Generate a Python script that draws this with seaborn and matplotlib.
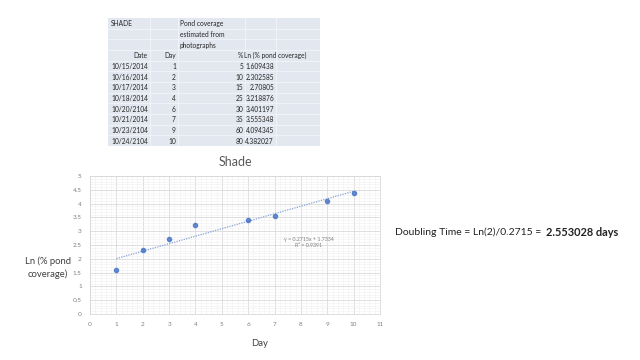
import numpy as np
import pandas as pd
import seaborn as sns
import matplotlib.pyplot as plt
from matplotlib.ticker import MultipleLocator, FuncFormatter

dates = ['10/15/2014', '10/16/2014', '10/17/2014', '10/18/2014',
         '10/20/2104', '10/21/2014', '10/23/2104', '10/24/2104']
days = [1, 2, 3, 4, 6, 7, 9, 10]
pct_cover = [5, 10, 15, 25, 30, 35, 60, 80]
ln_cover = ['1.609438', '2.302585', '2.70805', '3.218876',
            '3.401197', '3.555348', '4.094345', '4.382027']

df = pd.DataFrame({'Day': days, 'Ln': [float(v) for v in ln_cover]})

sns.set_style('white')
plt.rcParams['font.family'] = ['Lato', 'DejaVu Sans']

fig = plt.figure(figsize=(6.4, 3.6), dpi=100)

# ---- table at the top ----
tab = fig.add_axes([108/640, 1 - 146/360, 212/640, 128/360])
tab.set_xlim(108, 320)
tab.set_ylim(146, 18)
tab.axis('off')
col_edges = [108, 150, 178, 245, 276, 320]
n_rows = 12
row_h = 128 / n_rows
tab.add_patch(plt.Rectangle((108, 18), 212, 128, color='#e3e7f0', lw=0))
for x in col_edges[1:-1]:
    tab.plot([x, x], [18, 146], color='#f3f5f9', lw=0.6)
for i in range(1, n_rows):
    tab.plot([108, 320], [18 + i * row_h, 18 + i * row_h], color='#f3f5f9', lw=0.6)

fs = 4.8
def cell_y(r):
    return 18 + (r + 0.55) * row_h

tab.text(111, cell_y(0), 'SHADE', fontsize=fs, va='center', ha='left')
for r, t in enumerate(['Pond coverage', 'estimated from', 'photographs']):
    tab.text(180, cell_y(r), t, fontsize=fs, va='center', ha='left')
tab.text(148, cell_y(3), 'Date', fontsize=fs, va='center', ha='right')
tab.text(176, cell_y(3), 'Day', fontsize=fs, va='center', ha='right')
tab.text(243, cell_y(3), '%', fontsize=fs, va='center', ha='right')
tab.text(243.5, cell_y(3), 'Ln (% pond coverage)', fontsize=fs, va='center', ha='left')
for i in range(len(days)):
    r = 4 + i
    tab.text(148, cell_y(r), dates[i], fontsize=fs, va='center', ha='right')
    tab.text(176, cell_y(r), str(days[i]), fontsize=fs, va='center', ha='right')
    tab.text(243, cell_y(r), str(pct_cover[i]), fontsize=fs, va='center', ha='right')
    tab.text(274, cell_y(r), ln_cover[i], fontsize=fs, va='center', ha='right')

# ---- chart ----
ax = fig.add_axes([90/640, 1 - 314/360, 290/640, 138/360])
sns.regplot(data=df, x='Day', y='Ln', ci=None, ax=ax,
            scatter_kws=dict(s=9, color='#4472c4', zorder=3),
            line_kws=dict(color='#86a2d6', lw=0.9, ls=(0, (1, 1))))
ax.set_xlim(0, 11)
ax.set_ylim(0, 5)
ax.xaxis.set_major_locator(MultipleLocator(1))
ax.xaxis.set_minor_locator(MultipleLocator(0.2))
ax.yaxis.set_major_locator(MultipleLocator(0.5))
ax.yaxis.set_minor_locator(MultipleLocator(0.1))
ax.xaxis.set_major_formatter(FuncFormatter(lambda v, p: '%g' % v))
ax.yaxis.set_major_formatter(FuncFormatter(lambda v, p: '%g' % v))
ax.grid(which='major', color='#d9d9d9', lw=0.6)
ax.grid(which='minor', color='#efefef', lw=0.4)
for s in ax.spines.values():
    s.set_color('#d9d9d9')
    s.set_linewidth(0.6)
ax.tick_params(which='both', labelsize=4.6, colors='#7f7f7f', length=0, pad=6)
ax.set_xlabel('')
ax.set_ylabel('')
ax.set_title('Shade', fontsize=9, color='#595959', pad=7)

slope, intercept = np.polyfit(df['Day'], df['Ln'], 1)
r2 = np.corrcoef(df['Day'], df['Ln'])[0, 1] ** 2
ax.text(8.3, 2.6, 'y = %.4fx + %.4f\nR² = %.4f' % (slope, intercept, r2),
        fontsize=3.8, color='#7f7f7f', ha='center', va='center', linespacing=1.3)

fig.text(48/640, 1 - 268/360, 'Ln (% pond\ncoverage)', fontsize=6.8,
         ha='center', va='center', color='#404040', linespacing=1.5)
fig.text(260/640, 1 - 343/360, 'Day', fontsize=6.8, ha='center', va='center',
         color='#404040')
t1 = fig.text(395/640, 1 - 232/360, 'Doubling Time = Ln(2)/0.2715 = ', fontsize=7.5,
              ha='left', va='center', color='#222222')
t2 = fig.text(538/640, 1 - 232/360, '2.553028 days', fontsize=7.9, fontweight='bold',
              ha='left', va='center', color='#222222')
fig.canvas.draw()
bb = t1.get_window_extent()
t2.set_x(max(bb.x1 + 2, 538) / 640)

fig.savefig('out.png', dpi=100)
